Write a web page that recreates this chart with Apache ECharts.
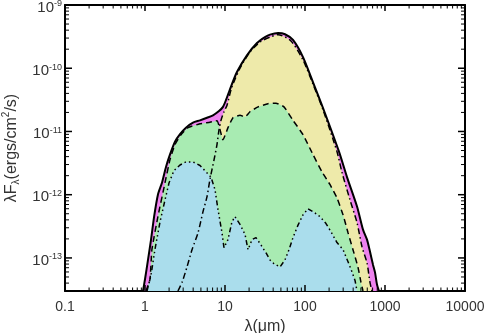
<!DOCTYPE html>
<html>
<head>
<meta charset="utf-8">
<script src="https://cdn.jsdelivr.net/npm/echarts@6/dist/echarts.min.js"></script>
<style>html,body{margin:0;padding:0;background:#fff}#c{width:490px;height:333px}</style>
</head>
<body>
<div id="c"></div>
<script>
// ---- data (wavelength in micron, lambda*F_lambda in ergs/cm^2/s) ----
const lamTot = [0.944,1.0,1.09,1.19,1.30,1.45,1.63,1.83,2.05,2.37,2.74,3.25,3.98,4.87,5.96,7.08,8.41,9.44,10.3,11.5,14.1,18.8,25.1,31.6,36.5,46,56.2,70.8,94.4,126,168,266,335,447,531,596,649,708,750,794,841];
const fTot = [3.0e-14,4.6e-14,9.3e-14,1.95e-13,4.5e-13,1.0e-12,1.55e-12,2.75e-12,4.3e-12,6.9e-12,9.1e-12,1.15e-11,1.38e-11,1.5e-11,1.65e-11,1.8e-11,2.1e-11,2.45e-11,3.15e-11,4.6e-11,8.7e-11,1.6e-10,2.5e-10,3.1e-10,3.4e-10,3.6e-10,3.45e-10,2.8e-10,1.5e-10,6.0e-11,2.35e-11,4.8e-12,1.9e-12,6.5e-13,2.8e-13,1.95e-13,1.26e-13,7.8e-14,5.9e-14,3.8e-14,3.0e-14];

const lamY = [2.58,2.90,3.35,3.87,4.6,5.31,5.96,6.49,7.29,7.94,8.41,8.91,9.71,10.6,12.1,15.4,20.5,27.4,36.5,46,66.8,94.4,126,168,251,290,365,447,516,596,649,688];
const fY = [3.0e-14,4.1e-14,7.2e-14,1.35e-13,2.5e-13,5.4e-13,9.3e-13,1.75e-12,3.55e-12,6.2e-12,1.06e-11,1.5e-11,2.05e-11,2.6e-11,4.9e-11,1.0e-10,1.8e-10,2.6e-10,3.1e-10,3.4e-10,2.7e-10,1.35e-10,5.6e-11,2.2e-11,4.8e-12,2.25e-12,8.3e-13,3.6e-13,1.5e-13,8.3e-14,4.1e-14,3.0e-14];

const lamG = [1.03,1.155,1.22,1.45,1.78,2.05,2.37,2.82,3.45,4.87,6.49,7.94,9.44,10.9,12.6,15.4,17.8,20.5,25.9,34.5,43.4,54.6,70.8,94.4,126,163,205,251,299,345,398,460,501,531];
const fG = [3.0e-14,4.6e-14,1.35e-13,4.5e-13,1.55e-12,3.55e-12,6.2e-12,8.9e-12,1.15e-11,1.32e-11,1.4e-11,1.48e-11,7.4e-12,1.15e-11,1.65e-11,1.8e-11,1.7e-11,2.05e-11,2.45e-11,2.75e-11,2.8e-11,2.45e-11,1.5e-11,8.9e-12,4.3e-12,2.3e-12,1.45e-12,8.9e-13,4.8e-13,2.5e-13,1.35e-13,7.1e-14,4.1e-14,3.0e-14];

const lamB = [1.06,1.19,1.33,1.54,1.78,2.0,2.30,2.74,3.25,3.98,4.87,5.79,6.68,7.5,8.18,9.17,9.71,10.9,12.2,13.3,15.4,17.8,19.4,21.8,24.4,28.2,32.6,36.5,41,48.7,56.2,63.1,70.8,81.8,94.4,109,126,154,183,211,251,299,345,387,422,447];
const fB = [3.0e-14,5.4e-14,1.35e-13,3.7e-13,8.3e-13,1.55e-12,2.4e-12,2.95e-12,3.3e-12,3.3e-12,2.9e-12,2.3e-12,1.9e-12,1.2e-12,5.8e-13,2.5e-13,1.45e-13,1.95e-13,3.7e-13,4.5e-13,3.4e-13,2.35e-13,1.35e-13,1.95e-13,2.1e-13,1.6e-13,1.2e-13,9.3e-14,8.1e-14,7.2e-14,9.3e-14,1.35e-13,2.1e-13,3.3e-13,4.8e-13,6.0e-13,5.4e-13,4.5e-13,3.5e-13,2.6e-13,1.75e-13,1.35e-13,8.7e-14,6.0e-14,4.4e-14,3.0e-14];

const xTickValues = [0.1, 1, 10, 100, 1000, 10000];
const xTickLabels = ['0.1', '1', '10', '100', '1000', '10000'];
const yTickExponents = [-13, -12, -11, -10, -9];

const xMin = 0.1, xMax = 10000, yMin = 3e-14, yMax = 1e-9;

// ---- build ----
const zip = (a, b) => a.map((v, i) => [v, b[i]]);
const FONT = 'Liberation Sans';
const TXT = '#333';

const majorX = xTickValues.slice();
const majorY = yTickExponents.map(e => Math.pow(10, e));
const minorX = [];
for (let e = -1; e <= 3; e++) for (let k = 2; k <= 9; k++) minorX.push(k * Math.pow(10, e));
const minorY = [];
for (let e = -14; e <= -10; e++) for (let k = 2; k <= 9; k++) {
  const v = k * Math.pow(10, e);
  if (v > yMin * 1.01 && v < yMax) minorY.push(v);
}

function areaSeries(data, color, smooth) {
  return {
    type: 'line', data: data, showSymbol: false, symbol: 'none', smooth: smooth,
    lineStyle: { width: 0, opacity: 0 },
    areaStyle: { color: color, opacity: 1, origin: 'start' },
    silent: true, z: 2
  };
}
function lineSeries(data, width, type, smooth) {
  return {
    type: 'line', data: data, showSymbol: false, symbol: 'none', smooth: smooth,
    lineStyle: { color: '#000', width: width, type: type },
    silent: true, z: 3
  };
}
function tickSeries(values, isX, len, width) {
  return {
    type: 'custom', silent: true, z: 10,
    data: values.map(v => isX ? [v, yMax] : [xMin, v]),
    renderItem: function (params, api) {
      const cs = params.coordSys;
      const v = api.value(isX ? 0 : 1);
      const st = { stroke: '#000', lineWidth: width };
      let c;
      if (isX) {
        const x = api.coord([v, yMax])[0];
        const yb = cs.y + cs.height, yt = cs.y;
        c = [
          { type: 'line', shape: { x1: x, y1: yb, x2: x, y2: yb - len }, style: st },
          { type: 'line', shape: { x1: x, y1: yt, x2: x, y2: yt + len }, style: st }
        ];
      } else {
        const y = api.coord([xMin, v])[1];
        const xl = cs.x, xr = cs.x + cs.width;
        c = [
          { type: 'line', shape: { x1: xl, y1: y, x2: xl + len, y2: y }, style: st },
          { type: 'line', shape: { x1: xr, y1: y, x2: xr - len, y2: y }, style: st }
        ];
      }
      return { type: 'group', children: c };
    }
  };
}

const chart = echarts.init(document.getElementById('c'), null, { renderer: 'canvas' });
const axisCommon = {
  type: 'log', logBase: 10,
  axisLine: { show: true, lineStyle: { color: '#000', width: 2 } },
  splitLine: { show: false },
  axisTick: { show: false }
};
chart.setOption({
  animation: false,
  backgroundColor: '#fff',
  textStyle: { fontFamily: FONT },
  grid: { left: 65, right: 25, top: 5, bottom: 42, containLabel: false, outerBoundsMode: 'none' },
  xAxis: [
    Object.assign({}, axisCommon, {
      position: 'bottom', min: xMin, max: xMax,
      axisLabel: {
        show: true, margin: 9, color: TXT, fontSize: 14, fontFamily: FONT,
        showMinLabel: true, showMaxLabel: true, hideOverlap: false,
        formatter: function (v) {
          const i = xTickValues.findIndex(t => Math.abs(Math.log10(t) - Math.log10(v)) < 0.01);
          return i >= 0 ? xTickLabels[i] : '';
        }
      },
      name: 'λ(μm)', nameLocation: 'middle', nameGap: 25,
      nameTextStyle: { color: TXT, fontSize: 16, fontFamily: FONT }
    }),
    Object.assign({}, axisCommon, {
      position: 'top', min: xMin, max: xMax,
      axisLabel: { show: false }
    })
  ],
  yAxis: [
    Object.assign({}, axisCommon, {
      position: 'left', min: yMin, max: yMax,
      axisLabel: {
        show: true, margin: 3, color: TXT, fontFamily: FONT,
        showMinLabel: true, showMaxLabel: true, hideOverlap: false,
        padding: [5, 0, 0, 0],
        formatter: function (v) {
          const lg = Math.log10(v), e = Math.round(lg);
          if (Math.abs(lg - e) > 0.01 || yTickExponents.indexOf(e) < 0) return '';
          return '{b|10}{s|' + (e < 0 ? '-' : '') + Math.abs(e) + '}';
        },
        rich: {
          b: { fontSize: 15, color: TXT, fontFamily: FONT, lineHeight: 16 },
          s: { fontSize: 9, color: TXT, fontFamily: FONT, verticalAlign: 'top', lineHeight: 16 }
        }
      },
      name: 'λF{sub|λ}(ergs/cm{sup|2}/s)', nameLocation: 'middle', nameGap: 42, nameRotate: 90,
      nameTextStyle: {
        color: TXT, fontSize: 16, fontFamily: FONT, lineHeight: 20,
        rich: {
          sub: { fontSize: 10, color: TXT, fontFamily: FONT, verticalAlign: 'bottom', lineHeight: 20 },
          sup: { fontSize: 10, color: TXT, fontFamily: FONT, verticalAlign: 'top', lineHeight: 20 }
        }
      }
    }),
    Object.assign({}, axisCommon, {
      position: 'right', min: yMin, max: yMax,
      axisLabel: { show: false }
    })
  ],
  series: [
    areaSeries(zip(lamTot, fTot), '#EE82EE', 0.25),
    areaSeries(zip(lamY, fY), '#EEEAAA', 0.25),
    areaSeries(zip(lamG, fG), '#A8EBB2', 0.15),
    areaSeries(zip(lamB, fB), '#AADDEC', false),
    lineSeries(zip(lamTot, fTot), 2, 'solid', 0.25),
    lineSeries(zip(lamY, fY), 1.5, [6, 3, 1.5, 3], 0.25),
    lineSeries(zip(lamG, fG), 1.5, [6, 4], 0.15),
    lineSeries(zip(lamB, fB), 1.5, [5, 3, 1.5, 3, 1.5, 3, 1.5, 3], false),
    tickSeries(majorX, true, 6, 1.5),
    tickSeries(minorX, true, 3.5, 1),
    tickSeries(majorY, false, 7, 1.5),
    tickSeries(minorY, false, 4, 1)
  ]
});
</script>
</body>
</html>
